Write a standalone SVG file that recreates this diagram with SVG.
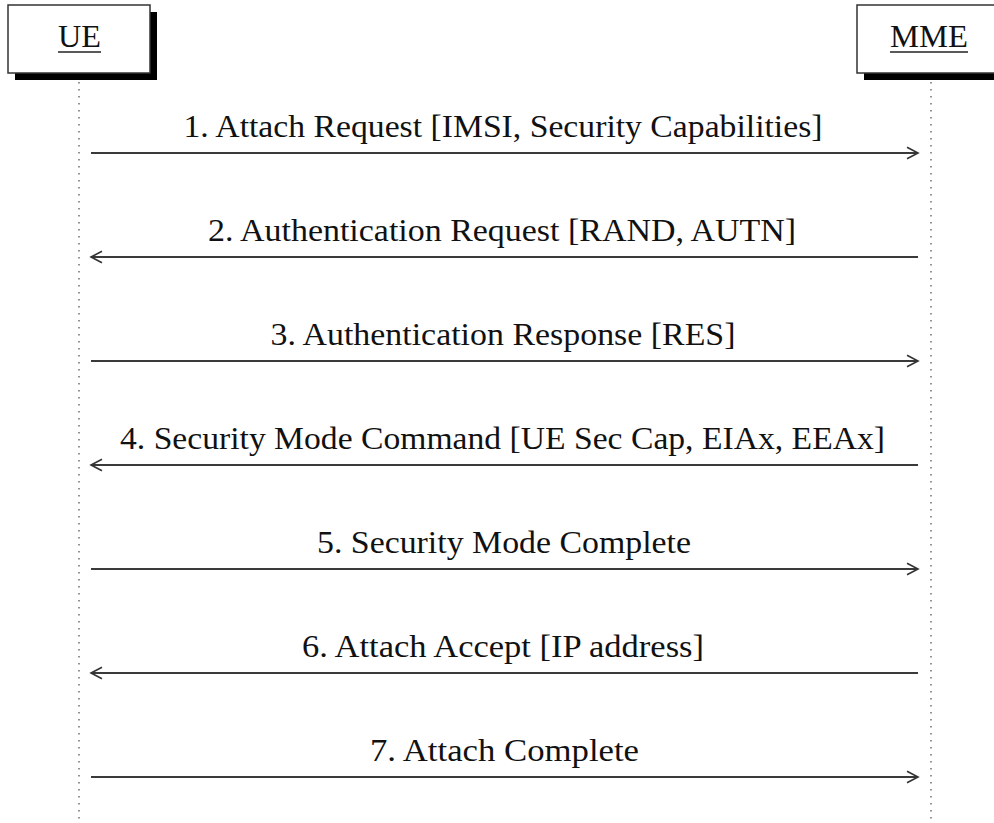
<svg xmlns="http://www.w3.org/2000/svg" width="994" height="823" viewBox="0 0 994 823">
  <style>
    .lbl { font-family: "Liberation Serif", "DejaVu Serif", serif; font-size: 32px; fill: #111; text-anchor: middle; }
    .box { fill: #fff; stroke: #333; stroke-width: 1.5; }
    .shadow { fill: #000; }
    .life { stroke: #777; stroke-width: 1.6; stroke-dasharray: 1.6 5.4; fill: none; }
    .msg { stroke: #3a3a3a; stroke-width: 2; fill: none; }
    .ul { stroke: #222; stroke-width: 1.6; }
  </style>
  <defs>
    <marker id="head" markerUnits="userSpaceOnUse" markerWidth="16" markerHeight="16" refX="12" refY="8" orient="auto">
      <path d="M1,2.3 L12,8 L1,13.7" fill="none" stroke="#333" stroke-width="1.6"/>
    </marker>
  </defs>
  <rect width="994" height="823" fill="#fff"/>

  <g id="lifelines">
    <line class="life" x1="79" y1="82" x2="79" y2="823"/>
    <line class="life" x1="931" y1="82" x2="931" y2="823"/>
  </g>

  <g id="UE">
    <rect class="shadow" x="15" y="12" width="142" height="68"/>
    <rect class="box" x="8" y="5" width="142" height="68"/>
    <text class="lbl" x="79.5" y="47" textLength="43" lengthAdjust="spacingAndGlyphs">UE</text>
    <line class="ul" x1="58" y1="52" x2="101" y2="52"/>
  </g>

  <g id="MME">
    <rect class="shadow" x="864" y="12" width="148" height="68"/>
    <rect class="box" x="857" y="5" width="148" height="68"/>
    <text class="lbl" x="929" y="47" textLength="78" lengthAdjust="spacingAndGlyphs">MME</text>
    <line class="ul" x1="890" y1="52" x2="968" y2="52"/>
  </g>

  <g id="connectors">
    <g id="m1">
      <line class="msg" x1="91" y1="153" x2="918" y2="153" marker-end="url(#head)"/>
      <text class="lbl" x="503" y="137" textLength="639" lengthAdjust="spacingAndGlyphs">1. Attach Request [IMSI, Security Capabilities]</text>
    </g>
    <g id="m2">
      <line class="msg" x1="918" y1="257" x2="91" y2="257" marker-end="url(#head)"/>
      <text class="lbl" x="502" y="241" textLength="588" lengthAdjust="spacingAndGlyphs">2. Authentication Request [RAND, AUTN]</text>
    </g>
    <g id="m3">
      <line class="msg" x1="91" y1="361" x2="918" y2="361" marker-end="url(#head)"/>
      <text class="lbl" x="503" y="345" textLength="465" lengthAdjust="spacingAndGlyphs">3. Authentication Response [RES]</text>
    </g>
    <g id="m4">
      <line class="msg" x1="918" y1="465" x2="91" y2="465" marker-end="url(#head)"/>
      <text class="lbl" x="502.5" y="449" textLength="765" lengthAdjust="spacingAndGlyphs">4. Security Mode Command [UE Sec Cap, EIAx, EEAx]</text>
    </g>
    <g id="m5">
      <line class="msg" x1="91" y1="569" x2="918" y2="569" marker-end="url(#head)"/>
      <text class="lbl" x="504" y="553" textLength="374" lengthAdjust="spacingAndGlyphs">5. Security Mode Complete</text>
    </g>
    <g id="m6">
      <line class="msg" x1="918" y1="673" x2="91" y2="673" marker-end="url(#head)"/>
      <text class="lbl" x="503" y="657" textLength="402" lengthAdjust="spacingAndGlyphs">6. Attach Accept [IP address]</text>
    </g>
    <g id="m7">
      <line class="msg" x1="91" y1="777" x2="918" y2="777" marker-end="url(#head)"/>
      <text class="lbl" x="504.5" y="761" textLength="269" lengthAdjust="spacingAndGlyphs">7. Attach Complete</text>
    </g>
  </g>
</svg>
